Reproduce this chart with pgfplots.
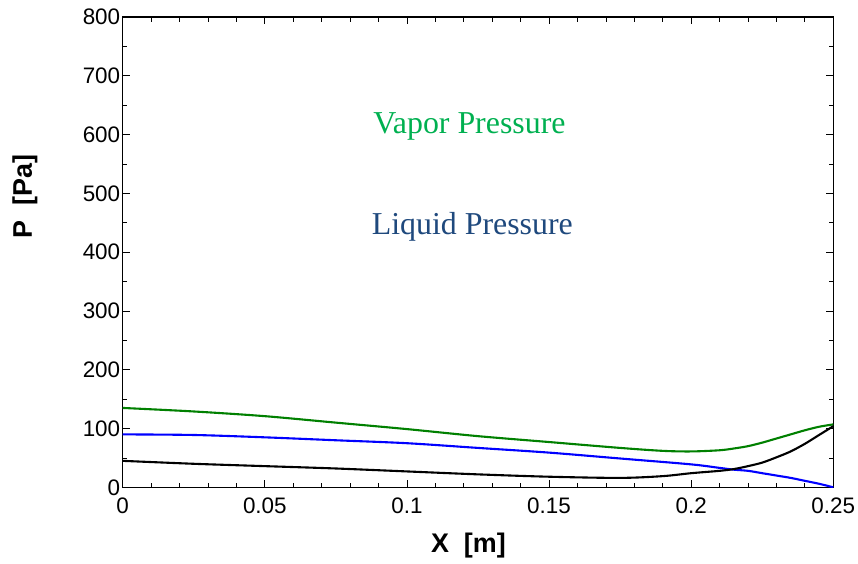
\documentclass[border=0pt]{standalone}
\usepackage{fontspec}
\setmainfont{Liberation Sans}
\newfontfamily\serifed{Liberation Serif}
\usepackage{pgfplots}
\pgfplotsset{compat=1.18}
\definecolor{vapText}{RGB}{0,176,80}
\definecolor{liqText}{RGB}{31,73,125}
\definecolor{vapLine}{RGB}{0,128,0}
\begin{document}
\begin{tikzpicture}
% page frame: 858 x 564 with axis box at (122.7,17)-(833.3,487.3)
\useasboundingbox (-122.7bp,-76.7bp) rectangle (735.3bp,487.3bp);
\begin{axis}[
    scale only axis,
    width=710.6bp, height=470.3bp,
    xmin=0, xmax=0.25, ymin=0, ymax=800,
    xtick={0,0.05,...,0.25},
    xticklabels={0,0.05,0.1,0.15,0.2,0.25},
    ytick={0,100,...,800},
    minor x tick num=4,
    minor y tick num=1,
    tick align=inside,
    major tick length=7bp,
    minor tick length=4.5bp,
    every tick/.style={black, line width=0.8bp},
    axis line style={line width=1.2bp},
    /pgf/number format/assume math mode=true,
    ticklabel style={font=\fontsize{22.5}{25}\selectfont},
    yticklabel style={xshift=1bp},
    xticklabel style={yshift=-7bp},
    xlabel={\textbf{X\ \ [m]}},
    ylabel={\textbf{P\ \ [Pa]}},
    every axis x label/.style={at={(axis description cs:0.4866,0)}, yshift=-58bp,
        anchor=center, font=\fontsize{27}{30}\selectfont},
    every axis y label/.style={at={(axis description cs:0,0.619)}, xshift=-97.7bp,
        rotate=90, anchor=center, font=\fontsize{27}{30}\selectfont},
]
% vapor pressure
\addplot[vapLine, line width=2.1bp, smooth] coordinates {
(0,135) (0.025,129) (0.05,121) (0.075,110) (0.1,99) (0.125,87) (0.15,77) (0.175,67)
(0.19,62) (0.2,61) (0.21,63) (0.215,66) (0.22,70) (0.225,76) (0.23,83) (0.235,90)
(0.24,97) (0.245,103) (0.25,107)};
% liquid pressure
\addplot[blue, line width=2.1bp, smooth] coordinates {
(0,90) (0.025,89) (0.05,85) (0.075,80) (0.1,75) (0.125,67) (0.15,59) (0.175,49)
(0.2,39) (0.21,33) (0.215,30) (0.22,28) (0.225,24) (0.23,20) (0.235,16) (0.24,11)
(0.245,6) (0.25,0)};
% difference
\addplot[black, line width=2.1bp, smooth] coordinates {
(0,45) (0.025,40) (0.05,36) (0.075,32) (0.1,27) (0.125,22) (0.15,18) (0.175,16)
(0.19,19) (0.2,24) (0.21,28) (0.215,31) (0.22,36) (0.225,42) (0.23,51) (0.235,61)
(0.24,74) (0.245,89) (0.25,104)};
\node[text=vapText, font=\serifed\fontsize{32}{36}\selectfont] at (axis cs:0.122,614) {Vapor Pressure};
\node[text=liqText, font=\serifed\fontsize{32}{36}\selectfont] at (axis cs:0.123,443) {Liquid Pressure};
\end{axis}
\end{tikzpicture}
\end{document}
